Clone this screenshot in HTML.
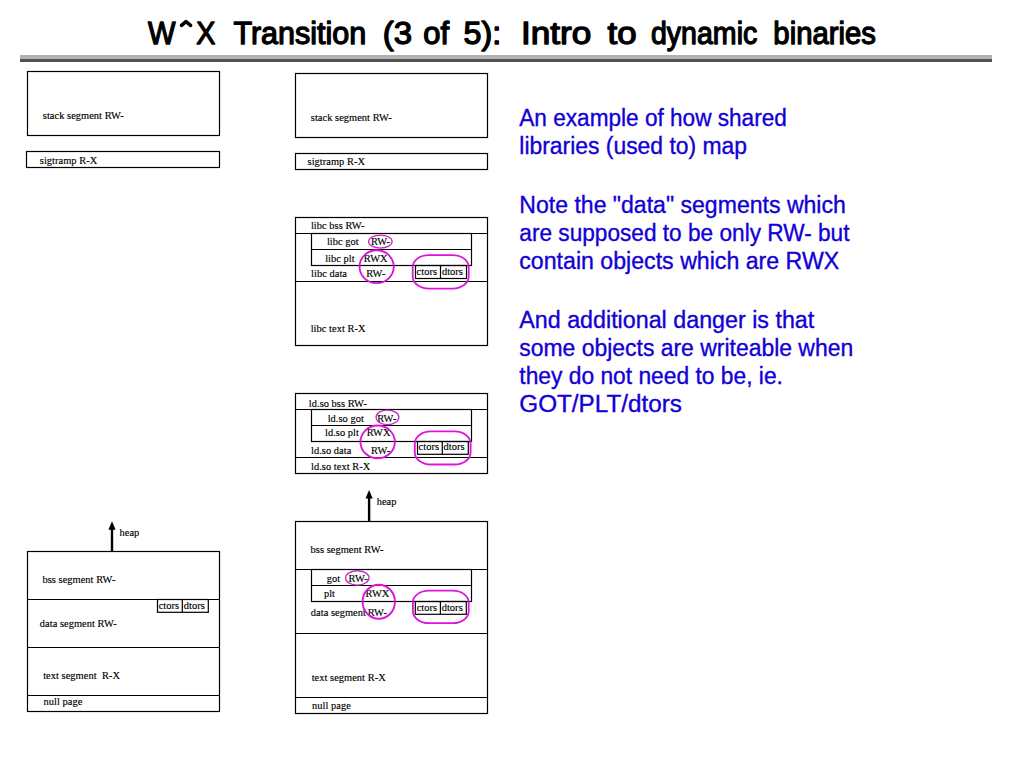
<!DOCTYPE html>
<html><head><meta charset="utf-8"><style>
html,body{margin:0;padding:0;background:#fff;width:1024px;height:768px;overflow:hidden;}
svg{position:absolute;left:0;top:0;}
.s{font-family:"Liberation Serif",serif;font-size:10.4px;fill:#000;stroke:#000;stroke-width:0.15px;letter-spacing:0.05px;}
.b{font-family:"Liberation Sans",sans-serif;font-size:23px;fill:#1200d6;stroke:#1200d6;stroke-width:0.35px;}
.t{font-family:"Liberation Sans",sans-serif;font-size:31px;fill:#000;stroke:#000;stroke-width:1.3px;stroke-linejoin:round;}
</style></head><body>
<svg width="1024" height="768" viewBox="0 0 1024 768">
<text x="148.05" y="43.9" class="t" textLength="27.46" lengthAdjust="spacingAndGlyphs">W</text>
<text x="196.35" y="43.9" class="t" textLength="19.18" lengthAdjust="spacingAndGlyphs">X</text>
<text x="233.45" y="43.9" class="t" textLength="132.86" lengthAdjust="spacingAndGlyphs">Transition</text>
<text x="382.65" y="43.9" class="t" textLength="29.36" lengthAdjust="spacingAndGlyphs">(3</text>
<text x="423.35" y="43.9" class="t" textLength="25.75" lengthAdjust="spacingAndGlyphs">of</text>
<text x="463.45" y="43.9" class="t" textLength="37.68" lengthAdjust="spacingAndGlyphs">5):</text>
<text x="521.05" y="43.9" class="t" textLength="70.33" lengthAdjust="spacingAndGlyphs">Intro</text>
<text x="607.55" y="43.9" class="t" textLength="29.05" lengthAdjust="spacingAndGlyphs">to</text>
<text x="650.95" y="43.9" class="t" textLength="106.33" lengthAdjust="spacingAndGlyphs">dynamic</text>
<text x="773.35" y="43.9" class="t" textLength="102.56" lengthAdjust="spacingAndGlyphs">binaries</text>
<polyline points="181.5,25.3 186,21.6 190.6,25.3" fill="none" stroke="#000" stroke-width="3.6" stroke-linecap="round" stroke-linejoin="round"/>
<rect x="20" y="55" width="972" height="4" fill="#b2b2b2"/>
<rect x="20" y="59" width="972" height="3" fill="#525252"/>
<rect x="27.5" y="71.5" width="192.00" height="64.00" fill="none" stroke="#000" stroke-width="1.2"/>
<text x="42.8" y="119" class="s">stack segment RW-</text>
<rect x="26.5" y="151.5" width="193.00" height="16.00" fill="none" stroke="#000" stroke-width="1.2"/>
<text x="39.8" y="164" class="s">sigtramp R-X</text>
<line x1="112" y1="528.3" x2="112" y2="551.5" stroke="#000" stroke-width="2.4"/>
<polygon points="112,521.3 108.4,529.8 115.6,529.8" fill="#000"/>
<text x="119.5" y="536" class="s">heap</text>
<rect x="27.5" y="551.5" width="192.00" height="160.00" fill="none" stroke="#000" stroke-width="1.2"/>
<line x1="27.5" y1="599.5" x2="219.5" y2="599.5" stroke="#000" stroke-width="1.2"/>
<line x1="27.5" y1="647.5" x2="219.5" y2="647.5" stroke="#000" stroke-width="1.2"/>
<line x1="27.5" y1="695.5" x2="219.5" y2="695.5" stroke="#000" stroke-width="1.2"/>
<text x="42.5" y="583" class="s">bss segment RW-</text>
<text x="39.8" y="626.7" class="s">data segment RW-</text>
<text x="43.2" y="678.7" class="s">text segment  R-X</text>
<text x="43.6" y="705.4" class="s">null page</text>
<rect x="157.5" y="599.5" width="50.80" height="12.80" fill="none" stroke="#000" stroke-width="1.2"/>
<line x1="182.3" y1="599.5" x2="182.3" y2="612.3" stroke="#000" stroke-width="1.2"/>
<text x="158.7" y="608.75" class="s">ctors</text>
<text x="183.8" y="608.75" class="s">dtors</text>
<rect x="295.5" y="73.5" width="192.00" height="64.00" fill="none" stroke="#000" stroke-width="1.2"/>
<text x="310.8" y="120.9" class="s">stack segment RW-</text>
<rect x="295.5" y="153.5" width="192.00" height="16.00" fill="none" stroke="#000" stroke-width="1.2"/>
<text x="307.6" y="165.3" class="s">sigtramp R-X</text>
<rect x="295.5" y="217.5" width="192.00" height="128.00" fill="none" stroke="#000" stroke-width="1.2"/>
<line x1="295.5" y1="233.5" x2="487.5" y2="233.5" stroke="#000" stroke-width="1.2"/>
<line x1="295.5" y1="281.5" x2="487.5" y2="281.5" stroke="#000" stroke-width="1.2"/>
<rect x="311.5" y="233.5" width="160.00" height="32.00" fill="none" stroke="#000" stroke-width="1.2"/>
<line x1="311.5" y1="249.5" x2="471.5" y2="249.5" stroke="#000" stroke-width="1.2"/>
<text x="310.9" y="228.75" class="s">libc bss RW-</text>
<text x="326.9" y="245.2" class="s">libc got</text>
<text x="370.9" y="245.2" class="s">RW-</text>
<text x="325.2" y="261.6" class="s">libc plt</text>
<text x="363.8" y="261.6" class="s">RWX</text>
<text x="311.1" y="276.6" class="s">libc data</text>
<text x="366.2" y="276.6" class="s">RW-</text>
<text x="310.7" y="331.5" class="s">libc text R-X</text>
<rect x="415.5" y="265.5" width="51.00" height="13.00" fill="none" stroke="#000" stroke-width="1.2"/>
<line x1="440.5" y1="265.5" x2="440.5" y2="278.5" stroke="#000" stroke-width="1.2"/>
<text x="416.6" y="274.6" class="s">ctors</text>
<text x="441.9" y="274.6" class="s">dtors</text>
<ellipse cx="380.35" cy="241.55" rx="11.80" ry="6.50" fill="none" stroke="#c828c8" stroke-width="1.3"/>
<ellipse cx="376.65" cy="266.70" rx="17.10" ry="16.45" fill="none" stroke="#dc14dc" stroke-width="1.9"/>
<rect x="412.70" y="255.10" width="56.00" height="33.50" rx="16" ry="12" fill="none" stroke="#dc14dc" stroke-width="1.8"/>
<rect x="295.5" y="393.5" width="192.00" height="80.00" fill="none" stroke="#000" stroke-width="1.2"/>
<line x1="295.5" y1="409.5" x2="487.5" y2="409.5" stroke="#000" stroke-width="1.2"/>
<line x1="295.5" y1="457.5" x2="487.5" y2="457.5" stroke="#000" stroke-width="1.2"/>
<rect x="311.5" y="409.5" width="160.00" height="32.00" fill="none" stroke="#000" stroke-width="1.2"/>
<line x1="311.5" y1="425.5" x2="471.5" y2="425.5" stroke="#000" stroke-width="1.2"/>
<text x="308.8" y="406.65" class="s">ld.so bss RW-</text>
<text x="327.7" y="421.5" class="s">ld.so got</text>
<text x="377.2" y="421.5" class="s">RW-</text>
<text x="325" y="436.3" class="s">ld.so plt</text>
<text x="366.7" y="436.3" class="s">RWX</text>
<text x="311" y="454.3" class="s">ld.so data</text>
<text x="371" y="454.3" class="s">RW-</text>
<text x="311" y="469.5" class="s">ld.so text R-X</text>
<rect x="417.5" y="441.5" width="50.80" height="12.80" fill="none" stroke="#000" stroke-width="1.2"/>
<line x1="442.3" y1="441.5" x2="442.3" y2="454.3" stroke="#000" stroke-width="1.2"/>
<text x="418.6" y="450.3" class="s">ctors</text>
<text x="443.6" y="450.3" class="s">dtors</text>
<ellipse cx="387.45" cy="417.30" rx="11.40" ry="7.25" fill="none" stroke="#c828c8" stroke-width="1.3"/>
<ellipse cx="377.65" cy="441.90" rx="17.20" ry="16.35" fill="none" stroke="#dc14dc" stroke-width="1.9"/>
<rect x="414.80" y="431.40" width="55.80" height="33.10" rx="16" ry="12" fill="none" stroke="#dc14dc" stroke-width="1.8"/>
<line x1="369.1" y1="497" x2="369.1" y2="521.5" stroke="#000" stroke-width="2.4"/>
<polygon points="369.1,490 365.5,498.5 372.70000000000005,498.5" fill="#000"/>
<text x="376.7" y="505.2" class="s">heap</text>
<rect x="295.5" y="521.5" width="192.00" height="192.00" fill="none" stroke="#000" stroke-width="1.2"/>
<line x1="295.5" y1="569.5" x2="487.5" y2="569.5" stroke="#000" stroke-width="1.2"/>
<line x1="295.5" y1="633.5" x2="487.5" y2="633.5" stroke="#000" stroke-width="1.2"/>
<line x1="295.5" y1="697.5" x2="487.5" y2="697.5" stroke="#000" stroke-width="1.2"/>
<rect x="311.5" y="569.5" width="160.00" height="32.00" fill="none" stroke="#000" stroke-width="1.2"/>
<line x1="311.5" y1="585.5" x2="471.5" y2="585.5" stroke="#000" stroke-width="1.2"/>
<text x="310.6" y="552.6" class="s">bss segment RW-</text>
<text x="326.7" y="581.8" class="s">got</text>
<text x="348.5" y="581.8" class="s">RW-</text>
<text x="323.9" y="597" class="s">plt</text>
<text x="365.6" y="597" class="s">RWX</text>
<text x="310.8" y="616.1" class="s">data segment</text>
<text x="367.7" y="616.1" class="s">RW-</text>
<text x="311.65" y="680.7" class="s">text segment R-X</text>
<text x="312" y="708.5" class="s">null page</text>
<rect x="415.3" y="601.5" width="51.00" height="12.80" fill="none" stroke="#000" stroke-width="1.2"/>
<line x1="440.4" y1="601.5" x2="440.4" y2="614.3" stroke="#000" stroke-width="1.2"/>
<text x="416.7" y="610.5" class="s">ctors</text>
<text x="441.7" y="610.5" class="s">dtors</text>
<ellipse cx="357.30" cy="577.95" rx="11.75" ry="7.20" fill="none" stroke="#c828c8" stroke-width="1.3"/>
<ellipse cx="378.75" cy="601.75" rx="16.20" ry="17.00" fill="none" stroke="#dc14dc" stroke-width="1.9"/>
<rect x="412.90" y="590.60" width="55.80" height="32.60" rx="16" ry="12" fill="none" stroke="#dc14dc" stroke-width="1.8"/>
<text x="519.30" y="125.8" class="b" textLength="267.54" lengthAdjust="spacingAndGlyphs">An example of how shared</text>
<text x="519.30" y="153.9" class="b" textLength="227.72" lengthAdjust="spacingAndGlyphs">libraries (used to) map</text>
<text x="519.30" y="212.9" class="b" textLength="326.54" lengthAdjust="spacingAndGlyphs">Note the &quot;data&quot; segments which</text>
<text x="519.30" y="240.5" class="b" textLength="330.22" lengthAdjust="spacingAndGlyphs">are supposed to be only RW- but</text>
<text x="519.30" y="269.1" class="b" textLength="319.90" lengthAdjust="spacingAndGlyphs">contain objects which are RWX</text>
<text x="519.30" y="327.8" class="b" textLength="294.95" lengthAdjust="spacingAndGlyphs">And additional danger is that</text>
<text x="519.30" y="355.7" class="b" textLength="333.86" lengthAdjust="spacingAndGlyphs">some objects are writeable when</text>
<text x="519.30" y="383.6" class="b" textLength="263.60" lengthAdjust="spacingAndGlyphs">they do not need to be, ie.</text>
<text x="519.30" y="411.6" class="b" textLength="162.62" lengthAdjust="spacingAndGlyphs">GOT/PLT/dtors</text>
</svg>
</body></html>
